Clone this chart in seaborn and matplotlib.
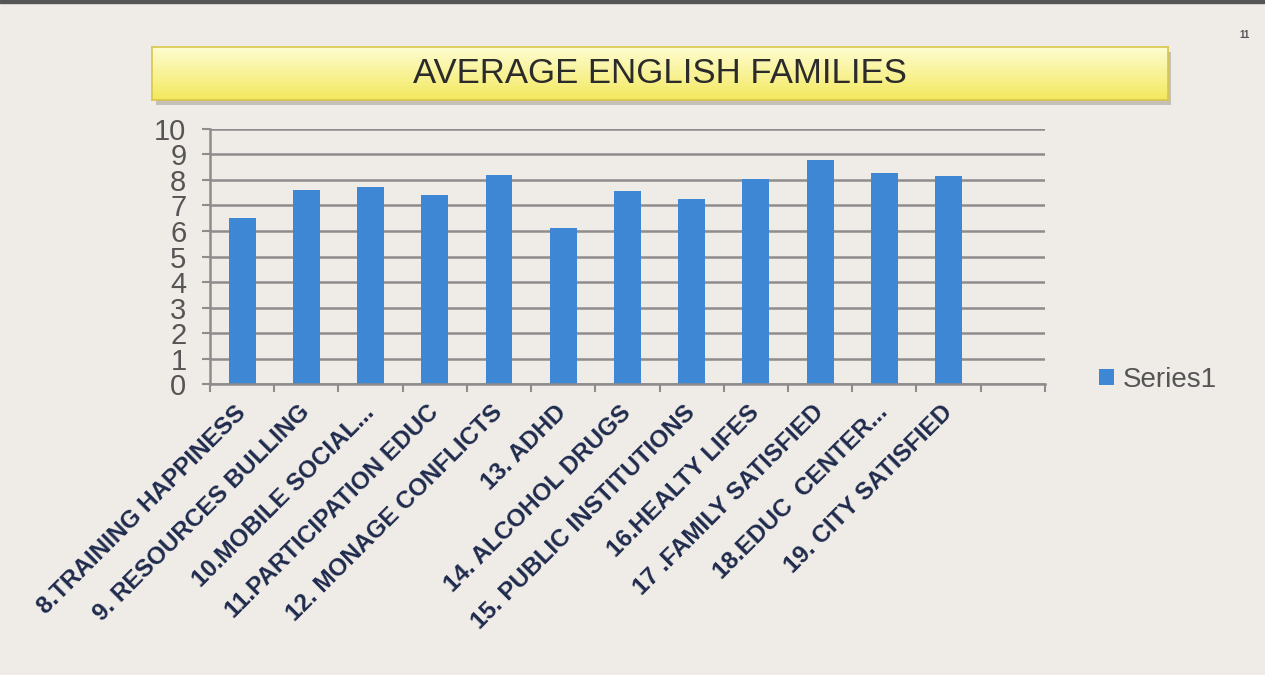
import numpy as np
import pandas as pd
import matplotlib
matplotlib.use("Agg")
import matplotlib.pyplot as plt
from matplotlib.patches import Rectangle
import seaborn as sns

categories = ["8.TRAINING HAPPINESS", "9. RESOURCES BULLING", "10.MOBILE SOCIAL...",
              "11.PARTICIPATION EDUC", "12. MONAGE CONFLICTS", "13. ADHD",
              "14. ALCOHOL DRUGS", "15. PUBLIC INSTITUTIONS", "16.HEALTY LIFES",
              "17 .FAMILY SATISFIED", "18.EDUC  CENTER...", "19. CITY SATISFIED"]
values = [6.5, 7.62, 7.71, 7.4, 8.18, 6.12, 7.58, 7.25, 8.04, 8.77, 8.27, 8.16]
yticks = list(range(0, 11))
series_name = "Series1"

bg = "#efebe7"
bar_color = "#3d87d4"
grid_color = "#8e8c8c"

sns.set_theme(style="white")
plt.rcParams["font.family"] = ["Liberation Sans", "DejaVu Sans"]

fig = plt.figure(figsize=(12.65, 6.75), dpi=100)
fig.patch.set_facecolor(bg)

# dark strip at the top edge of the slide
fig.add_artist(Rectangle((0, 0.995), 1, 0.005, transform=fig.transFigure,
                         color="#555555", zorder=5))
fig.text(0.984, 0.948, "11", fontsize=7, color="#555555", fontweight="bold",
         ha="center", va="center")

# shadow behind title banner
sax = fig.add_axes([0.123, 0.845, 0.803, 0.078])
sax.set_facecolor("#c4c0b6")
sax.set_xticks([])
sax.set_yticks([])
for s in sax.spines.values():
    s.set_visible(False)
sax.set_zorder(1)

# yellow title banner
tax = fig.add_axes([0.120, 0.852, 0.803, 0.078])
tax.set_zorder(2)
grad = np.linspace(0, 1, 100).reshape(-1, 1)
cmap = matplotlib.colors.LinearSegmentedColormap.from_list("ttl", ["#fefdd0", "#f3e85e"])
tax.imshow(grad, aspect="auto", cmap=cmap, extent=[0, 1, 0, 1], origin="upper")
tax.set_xlim(0, 1)
tax.set_ylim(0, 1)
tax.set_xticks([])
tax.set_yticks([])
for s in tax.spines.values():
    s.set_color("#d9c64a")
    s.set_linewidth(1.2)
tax.text(0.5, 0.5, "AVERAGE ENGLISH FAMILIES", fontsize=25, color="#2b2b2b",
         ha="center", va="center")

ax = fig.add_axes([0.166, 0.431, 0.660, 0.378])
ax.patch.set_alpha(0)
df = pd.DataFrame({"category": categories, "value": values})
sns.barplot(data=df, x="category", y="value", order=categories, color=bar_color,
            saturation=1, width=0.42, label=series_name, linewidth=0, ax=ax)

ax.set_xlim(-0.5, len(categories) + 0.5)
ax.set_ylim(0, 10)
ax.set_yticks(yticks)
ax.set_yticklabels([str(t) for t in yticks], fontsize=21, color="#555555")
ax.yaxis.grid(True, color=grid_color, linewidth=1.8)
ax.set_axisbelow(True)
ax.set_xlabel("")
ax.set_ylabel("")

for side in ["top", "right"]:
    ax.spines[side].set_visible(False)
for side in ["left", "bottom"]:
    ax.spines[side].set_color(grid_color)
    ax.spines[side].set_linewidth(1.8)

ax.tick_params(axis="y", which="major", left=True, length=6, width=1.5,
               color=grid_color, pad=11)
ax.tick_params(axis="x", which="major", bottom=False, pad=12)
ax.set_xticks(np.arange(-0.5, len(categories) + 1, 1), minor=True)
ax.tick_params(axis="x", which="minor", bottom=True, length=6, width=1.5,
               color=grid_color)

ax.set_xticks(range(len(categories)))
ax.set_xticklabels(categories, rotation=45, ha="right", va="center",
                   rotation_mode="anchor", fontsize=17.5, fontweight="bold",
                   color="#1f2b4d")

ax.legend(loc="center left", bbox_to_anchor=(0.849, 0.437),
          bbox_transform=fig.transFigure, frameon=False, fontsize=20,
          handlelength=0.55, handleheight=0.5, handletextpad=0.3,
          labelcolor="#555555")

fig.savefig("out.png", dpi=100, facecolor=fig.get_facecolor())
